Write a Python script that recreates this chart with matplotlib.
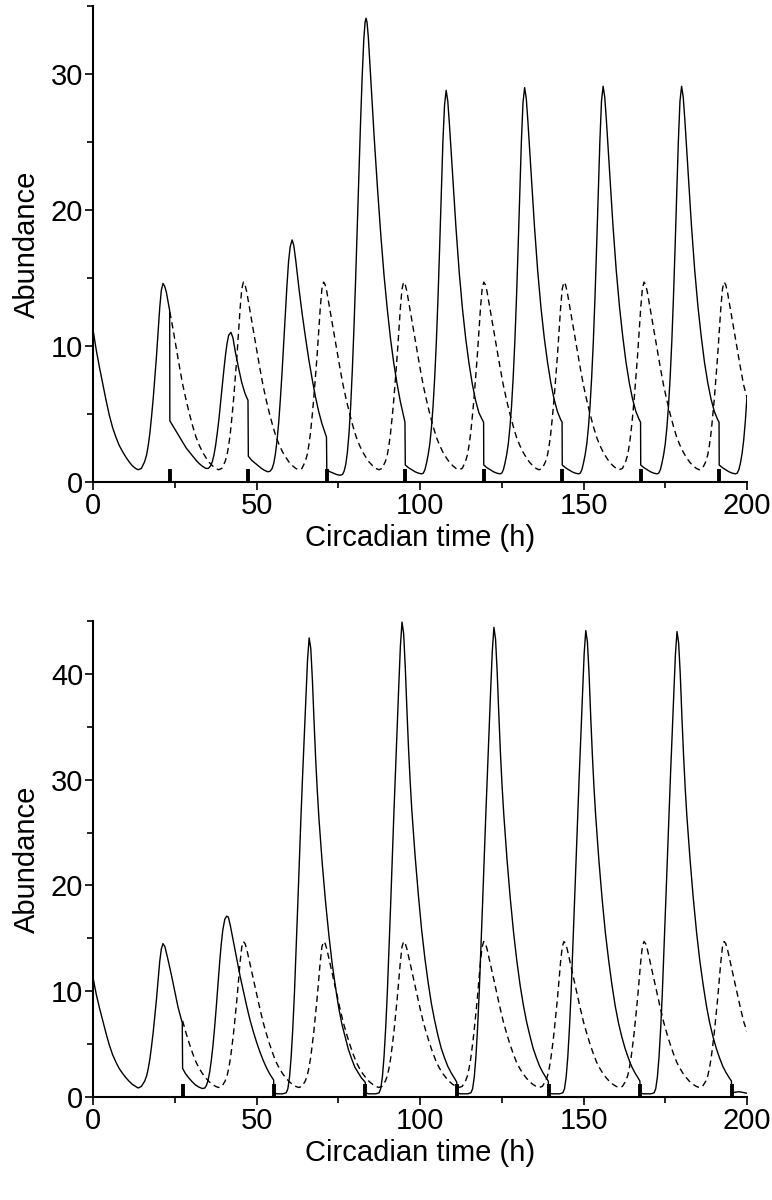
import matplotlib
matplotlib.use("Agg")
import matplotlib.pyplot as plt
import matplotlib.transforms as mtransforms
from matplotlib.ticker import MultipleLocator

plt.rcParams['font.family'] = ['Liberation Sans', 'DejaVu Sans']

# ---------------- data ----------------
# Free-running (dashed) oscillation, shared by both panels
dashed_pts = [
    (23.5, 12.5), (24.5, 11.2), (25.5, 9.8), (26.5, 8.4), (27.4, 7.2), (28.5, 6.0), (29.5, 5.0),
    (30.5, 4.1), (31.5, 3.3), (32.5, 2.7), (33.5, 2.2), (34.5, 1.8), (35.5, 1.45), (36.5, 1.2),
    (37.5, 1.0), (38.4, 0.9),
    (39.4, 1.0), (40.4, 1.5), (41.0, 2.0), (41.5, 2.7), (42.0, 3.6), (42.5, 4.8), (43.0, 6.1),
    (43.5, 7.6), (44.0, 9.2), (44.5, 11.0), (45.0, 12.8), (45.5, 14.2), (46.0, 14.7), (46.5, 14.5),
    (47.0, 14.0), (48.0, 12.6), (49.0, 11.2), (50.0, 9.8), (51.0, 8.4), (52.0, 7.1), (53.0, 6.0),
    (54.0, 5.0), (55.0, 4.1), (56.0, 3.3), (57.0, 2.7), (58.0, 2.2), (59.0, 1.8), (60.0, 1.45),
    (61.0, 1.2), (62.0, 1.0), (62.9, 0.9),
    (63.9, 1.0), (64.9, 1.5), (65.5, 2.0), (66.0, 2.7), (66.5, 3.6), (67.0, 4.8), (67.5, 6.1),
    (68.0, 7.6), (68.5, 9.2), (69.0, 11.0), (69.5, 12.8), (70.0, 14.2), (70.5, 14.7), (71.0, 14.5),
    (71.5, 14.0), (72.5, 12.6), (73.5, 11.2), (74.5, 9.8), (75.5, 8.4), (76.5, 7.1), (77.5, 6.0),
    (78.5, 5.0), (79.5, 4.1), (80.5, 3.3), (81.5, 2.7), (82.5, 2.2), (83.5, 1.8), (84.5, 1.45),
    (85.5, 1.2), (86.5, 1.0), (87.4, 0.9),
    (88.4, 1.0), (89.4, 1.5), (90.0, 2.0), (90.5, 2.7), (91.0, 3.6), (91.5, 4.8), (92.0, 6.1),
    (92.5, 7.6), (93.0, 9.2), (93.5, 11.0), (94.0, 12.8), (94.5, 14.2), (95.0, 14.7), (95.5, 14.5),
    (96.0, 14.0), (97.0, 12.6), (98.0, 11.2), (99.0, 9.8), (100.0, 8.4), (101.0, 7.1), (102.0, 6.0),
    (103.0, 5.0), (104.0, 4.1), (105.0, 3.3), (106.0, 2.7), (107.0, 2.2), (108.0, 1.8), (109.0, 1.45),
    (110.0, 1.2), (111.0, 1.0), (111.9, 0.9),
    (112.9, 1.0), (113.9, 1.5), (114.5, 2.0), (115.0, 2.7), (115.5, 3.6), (116.0, 4.8), (116.5, 6.1),
    (117.0, 7.6), (117.5, 9.2), (118.0, 11.0), (118.5, 12.8), (119.0, 14.2), (119.5, 14.7), (120.0, 14.5),
    (120.5, 14.0), (121.5, 12.6), (122.5, 11.2), (123.5, 9.8), (124.5, 8.4), (125.5, 7.1), (126.5, 6.0),
    (127.5, 5.0), (128.5, 4.1), (129.5, 3.3), (130.5, 2.7), (131.5, 2.2), (132.5, 1.8), (133.5, 1.45),
    (134.5, 1.2), (135.5, 1.0), (136.4, 0.9),
    (137.4, 1.0), (138.4, 1.5), (139.0, 2.0), (139.5, 2.7), (140.0, 3.6), (140.5, 4.8), (141.0, 6.1),
    (141.5, 7.6), (142.0, 9.2), (142.5, 11.0), (143.0, 12.8), (143.5, 14.2), (144.0, 14.7), (144.5, 14.5),
    (145.0, 14.0), (146.0, 12.6), (147.0, 11.2), (148.0, 9.8), (149.0, 8.4), (150.0, 7.1), (151.0, 6.0),
    (152.0, 5.0), (153.0, 4.1), (154.0, 3.3), (155.0, 2.7), (156.0, 2.2), (157.0, 1.8), (158.0, 1.45),
    (159.0, 1.2), (160.0, 1.0), (160.9, 0.9),
    (161.9, 1.0), (162.9, 1.5), (163.5, 2.0), (164.0, 2.7), (164.5, 3.6), (165.0, 4.8), (165.5, 6.1),
    (166.0, 7.6), (166.5, 9.2), (167.0, 11.0), (167.5, 12.8), (168.0, 14.2), (168.5, 14.7), (169.0, 14.5),
    (169.5, 14.0), (170.5, 12.6), (171.5, 11.2), (172.5, 9.8), (173.5, 8.4), (174.5, 7.1), (175.5, 6.0),
    (176.5, 5.0), (177.5, 4.1), (178.5, 3.3), (179.5, 2.7), (180.5, 2.2), (181.5, 1.8), (182.5, 1.45),
    (183.5, 1.2), (184.5, 1.0), (185.4, 0.9),
    (186.4, 1.0), (187.4, 1.5), (188.0, 2.0), (188.5, 2.7), (189.0, 3.6), (189.5, 4.8), (190.0, 6.1),
    (190.5, 7.6), (191.0, 9.2), (191.5, 11.0), (192.0, 12.8), (192.5, 14.2), (193.0, 14.7), (193.5, 14.5),
    (194.0, 14.0), (195.0, 12.6), (196.0, 11.2), (197.0, 9.8), (198.0, 8.4), (199.0, 7.1), (200.0, 6.2),
]

# Top panel, solid curve (24 h light pulses)
top_solid_pts = [
    (0, 11.2), (1, 9.7), (2, 8.4), (3, 7.2), (4, 6.0), (5, 4.9), (6, 4.0), (7, 3.3), (8, 2.7),
    (9, 2.25), (10, 1.85), (11, 1.5), (12, 1.2), (13, 1.0), (13.8, 0.9),
    (14.8, 1.0), (15.8, 1.5), (16.4, 2.0), (16.9, 2.7), (17.4, 3.6), (17.9, 4.8), (18.4, 6.1),
    (18.9, 7.6), (19.4, 9.2), (19.9, 11.0), (20.4, 12.8), (20.9, 14.1), (21.4, 14.6), (21.9, 14.4),
    (22.4, 14.0), (23.0, 13.2), (23.45, 12.6),
    (23.5, 4.5), (24.5, 4.1), (25.5, 3.7), (26.5, 3.3), (27.5, 2.9), (28.5, 2.5), (29.5, 2.2),
    (30.5, 1.9), (31.5, 1.6), (32.5, 1.35), (33.5, 1.15), (34.5, 1.0), (35.3, 1.0),
    (36.0, 1.2), (36.5, 1.5), (37.0, 2.0), (37.5, 2.7), (38.0, 3.6), (38.5, 4.6), (39.0, 5.8),
    (39.5, 7.0), (40.0, 8.2), (40.5, 9.3), (41.0, 10.2), (41.5, 10.8), (42.2, 11.0), (42.8, 10.6),
    (43.5, 9.6), (44.5, 8.4), (45.5, 7.3), (46.5, 6.5), (47.4, 6.0),
    (47.5, 1.9), (48.5, 1.6), (49.5, 1.4), (50.5, 1.2), (51.5, 1.0), (52.5, 0.85), (53.5, 0.75),
    (54.2, 0.8), (54.8, 1.0), (55.3, 1.4), (55.8, 2.1), (56.3, 3.1), (56.8, 4.4), (57.3, 6.1),
    (57.8, 8.0), (58.3, 10.1), (58.8, 12.3), (59.3, 14.4), (59.8, 16.2), (60.3, 17.3), (60.9, 17.8),
    (61.4, 17.4), (62.0, 16.3), (63.0, 14.2), (64.0, 12.3), (65.0, 10.6), (66.0, 9.0), (67.0, 7.6),
    (68.0, 6.3), (69.0, 5.2), (70.0, 4.3), (71.4, 3.3),
    (71.5, 0.9), (72.5, 0.75), (73.5, 0.65), (74.5, 0.55), (75.5, 0.5), (76.3, 0.55),
    (76.8, 0.8), (77.3, 1.3), (77.8, 2.2), (78.3, 3.6), (78.8, 5.6), (79.3, 8.2), (79.8, 11.3),
    (80.3, 14.8), (80.8, 18.6), (81.3, 22.5), (81.8, 26.3), (82.3, 29.7), (82.8, 32.5), (83.2, 33.8),
    (83.5, 34.1), (83.8, 33.8), (84.2, 32.7), (84.7, 30.7), (85.2, 28.6), (86.0, 25.3), (87.0, 21.6),
    (88.0, 18.2), (89.0, 15.2), (90.0, 12.7), (91.0, 10.5), (92.0, 8.7), (93.0, 7.2), (94.0, 5.9),
    (95.4, 4.4),
    (95.5, 1.25), (96.5, 1.05), (97.5, 0.9), (98.5, 0.75), (99.5, 0.65), (100.5, 0.6),
    (101.0, 0.65), (101.5, 0.9), (102.0, 1.4), (102.5, 2.0), (103.0, 2.8), (103.5, 4.0), (104.0, 5.6),
    (104.5, 7.7), (105.0, 10.3), (105.5, 13.5), (106.0, 17.2), (106.5, 21.2), (107.0, 25.0),
    (107.5, 27.7), (108.0, 28.8), (108.5, 28.0), (109.0, 26.3), (109.5, 24.4), (110.0, 22.4),
    (111.0, 18.7), (112.0, 15.4), (113.0, 12.7), (114.0, 10.5), (115.0, 8.7), (116.0, 7.2),
    (117.0, 6.0), (118.0, 5.1), (119.0, 4.6), (119.45, 4.4),
    (119.5, 1.25), (120.5, 1.05), (121.5, 0.9), (122.5, 0.75), (123.5, 0.65), (124.5, 0.6),
    (125.0, 0.65), (125.5, 0.9), (126.0, 1.4), (126.5, 2.0), (127.0, 2.8), (127.5, 4.0), (128.0, 5.6),
    (128.5, 7.7), (129.0, 10.3), (129.5, 13.5), (130.0, 17.2), (130.5, 21.2), (131.0, 25.0),
    (131.5, 27.9), (132.0, 29.0), (132.5, 28.2), (133.0, 26.5), (133.5, 24.6), (134.0, 22.6),
    (135.0, 18.8), (136.0, 15.5), (137.0, 12.8), (138.0, 10.6), (139.0, 8.8), (140.0, 7.3),
    (141.0, 6.1), (142.0, 5.2), (143.0, 4.6), (143.45, 4.4),
    (143.5, 1.25), (144.5, 1.05), (145.5, 0.9), (146.5, 0.75), (147.5, 0.65), (148.5, 0.6),
    (149.0, 0.65), (149.5, 0.9), (150.0, 1.4), (150.5, 2.0), (151.0, 2.8), (151.5, 4.0), (152.0, 5.6),
    (152.5, 7.7), (153.0, 10.3), (153.5, 13.5), (154.0, 17.2), (154.5, 21.2), (155.0, 25.0),
    (155.5, 28.0), (156.0, 29.1), (156.5, 28.3), (157.0, 26.6), (157.5, 24.7), (158.0, 22.7),
    (159.0, 18.9), (160.0, 15.6), (161.0, 12.9), (162.0, 10.7), (163.0, 8.8), (164.0, 7.3),
    (165.0, 6.1), (166.0, 5.2), (167.0, 4.6), (167.45, 4.4),
    (167.5, 1.25), (168.5, 1.05), (169.5, 0.9), (170.5, 0.75), (171.5, 0.65), (172.5, 0.6),
    (173.0, 0.65), (173.5, 0.9), (174.0, 1.4), (174.5, 2.0), (175.0, 2.8), (175.5, 4.0), (176.0, 5.6),
    (176.5, 7.7), (177.0, 10.3), (177.5, 13.5), (178.0, 17.2), (178.5, 21.2), (179.0, 25.0),
    (179.5, 28.0), (180.0, 29.1), (180.5, 28.3), (181.0, 26.6), (181.5, 24.7), (182.0, 22.7),
    (183.0, 18.9), (184.0, 15.6), (185.0, 12.9), (186.0, 10.7), (187.0, 8.8), (188.0, 7.3),
    (189.0, 6.1), (190.0, 5.2), (191.0, 4.6), (191.45, 4.4),
    (191.5, 1.25), (192.5, 1.05), (193.5, 0.9), (194.5, 0.75), (195.5, 0.65), (196.5, 0.6),
    (197.0, 0.65), (197.5, 0.9), (198.0, 1.4), (198.5, 2.1), (199.0, 3.1), (199.5, 4.5), (200.0, 6.3),
]

# Bottom panel, solid curve (28 h light pulses)
bottom_solid_pts = [
    (0, 11.3), (1, 9.7), (2, 8.4), (3, 7.2), (4, 6.0), (5, 4.9), (6, 4.0), (7, 3.3), (8, 2.7),
    (9, 2.25), (10, 1.85), (11, 1.5), (12, 1.2), (13, 1.0), (13.8, 0.85),
    (14.8, 1.0), (15.8, 1.5), (16.4, 2.0), (16.9, 2.7), (17.4, 3.6), (17.9, 4.8), (18.4, 6.1),
    (18.9, 7.6), (19.4, 9.2), (19.9, 11.0), (20.4, 12.8), (20.9, 14.0), (21.4, 14.5), (22.0, 14.2),
    (23.0, 12.9), (24.0, 11.5), (25.0, 10.0), (26.0, 8.5), (27.3, 7.0),
    (27.4, 2.7), (28.3, 2.2), (29.3, 1.8), (30.3, 1.45), (31.3, 1.15), (32.3, 0.95), (33.4, 0.8),
    (34.2, 0.85), (34.7, 1.1), (35.2, 1.6), (35.7, 2.4), (36.2, 3.5), (36.7, 4.9), (37.2, 6.6),
    (37.7, 8.5), (38.2, 10.6), (38.7, 12.6), (39.2, 14.4), (39.7, 15.8), (40.3, 16.8), (40.9, 17.1),
    (41.4, 17.0), (42.0, 16.2), (43.0, 14.6), (44.0, 13.0), (45.0, 11.4), (46.0, 10.0), (47.0, 8.6),
    (48.0, 7.3), (49.0, 6.2), (50.0, 5.2), (51.0, 4.3), (52.0, 3.5), (53.0, 2.8), (54.0, 2.2),
    (55.25, 1.6),
    (55.3, 0.4), (56.3, 0.3), (58.0, 0.3), (59.1, 0.4), (59.6, 0.8), (60.1, 1.9), (60.6, 3.8),
    (61.1, 6.5), (61.6, 9.8), (62.1, 13.8), (62.6, 18.0), (63.1, 22.3), (63.6, 26.5), (64.1, 30.4),
    (64.6, 34.0), (65.1, 37.8), (65.6, 41.3), (66.1, 43.4), (66.6, 42.4), (67.1, 39.4), (67.6, 35.5),
    (68.1, 31.9), (68.6, 28.9), (69.1, 26.3), (70.1, 22.1), (71.1, 18.5), (72.1, 15.4), (73.1, 12.7),
    (74.1, 10.5), (75.1, 8.5), (76.1, 6.9), (77.1, 5.7), (78.1, 4.5), (79.1, 3.6), (80.1, 2.8),
    (81.1, 2.3), (82.1, 1.8), (83.25, 1.4),
    (83.3, 0.4), (84.3, 0.3), (86.5, 0.3), (87.5, 0.4), (88.0, 0.8), (88.5, 1.9), (89.0, 3.8),
    (89.5, 6.5), (90.0, 9.8), (90.5, 13.8), (91.0, 18.0), (91.5, 22.4), (92.0, 26.7), (92.5, 30.8),
    (93.0, 34.8), (93.5, 38.8), (94.0, 42.6), (94.5, 44.9), (95.0, 43.8), (95.5, 40.6), (96.0, 36.6),
    (96.5, 32.9), (97.0, 29.8), (97.5, 27.1), (98.5, 22.8), (99.5, 19.1), (100.5, 15.8), (101.5, 13.1),
    (102.5, 10.8), (103.5, 8.8), (104.5, 7.2), (105.5, 5.8), (106.5, 4.6), (107.5, 3.7), (108.5, 2.9),
    (109.5, 2.3), (110.5, 1.8), (111.25, 1.4),
    (111.3, 0.4), (112.3, 0.3), (114.6, 0.3), (115.6, 0.4), (116.1, 0.8), (116.6, 1.9), (117.1, 3.8),
    (117.6, 6.5), (118.1, 9.8), (118.6, 13.8), (119.1, 18.0), (119.6, 22.3), (120.1, 26.5),
    (120.6, 30.5), (121.1, 34.4), (121.6, 38.4), (122.1, 42.1), (122.6, 44.4), (123.1, 43.3),
    (123.6, 40.2), (124.1, 36.2), (124.6, 32.5), (125.1, 29.4), (125.6, 26.8), (126.6, 22.5),
    (127.6, 18.8), (128.6, 15.6), (129.6, 12.9), (130.6, 10.6), (131.6, 8.7), (132.6, 7.1),
    (133.6, 5.8), (134.6, 4.6), (135.6, 3.7), (136.6, 2.9), (137.6, 2.3), (138.6, 1.8), (139.25, 1.5),
    (139.3, 0.4), (140.3, 0.3), (142.7, 0.3), (143.7, 0.4), (144.2, 0.8), (144.7, 1.9), (145.2, 3.8),
    (145.7, 6.5), (146.2, 9.8), (146.7, 13.8), (147.2, 18.0), (147.7, 22.2), (148.2, 26.4),
    (148.7, 30.4), (149.2, 34.2), (149.7, 38.2), (150.2, 41.9), (150.7, 44.1), (151.2, 43.0),
    (151.7, 40.0), (152.2, 36.0), (152.7, 32.4), (153.2, 29.3), (153.7, 26.7), (154.7, 22.4),
    (155.7, 18.7), (156.7, 15.5), (157.7, 12.9), (158.7, 10.6), (159.7, 8.6), (160.7, 7.0),
    (161.7, 5.7), (162.7, 4.6), (163.7, 3.7), (164.7, 2.9), (165.7, 2.3), (166.7, 1.8), (167.25, 1.5),
    (167.3, 0.4), (168.3, 0.3), (170.6, 0.3), (171.6, 0.4), (172.1, 0.8), (172.6, 1.9), (173.1, 3.8),
    (173.6, 6.5), (174.1, 9.8), (174.6, 13.8), (175.1, 18.0), (175.6, 22.2), (176.1, 26.4),
    (176.6, 30.4), (177.1, 34.2), (177.6, 38.1), (178.1, 41.8), (178.6, 44.0), (179.1, 42.9),
    (179.6, 39.9), (180.1, 35.9), (180.6, 32.3), (181.1, 29.2), (181.6, 26.6), (182.6, 22.4),
    (183.6, 18.7), (184.6, 15.5), (185.6, 12.8), (186.6, 10.6), (187.6, 8.6), (188.6, 7.0),
    (189.6, 5.7), (190.6, 4.6), (191.6, 3.7), (192.6, 2.9), (193.6, 2.3), (194.6, 1.8), (195.25, 1.5),
    (195.3, 0.4), (196.3, 0.45), (197.5, 0.5), (198.5, 0.45), (200.0, 0.35),
]

# Light-pulse times (h) marked on the time axis
top_pulses = [23.5, 47.5, 71.5, 95.5, 119.5, 143.5, 167.5, 191.5]
bottom_pulses = [27.4, 55.3, 83.3, 111.3, 139.3, 167.3, 195.3]

x_ticks = [0, 50, 100, 150, 200]
top_y_ticks = [0, 10, 20, 30]
bottom_y_ticks = [0, 10, 20, 30, 40]
x_label = "Circadian time (h)"
y_label = "Abundance"

# ---------------- drawing ----------------
W, H = 772, 1200
fig = plt.figure(figsize=(W / 100, H / 100), dpi=100)

ax_left = 93 / W
ax_w = (747 - 93) / W
ax_h = (482 - 6) / H
ax_top = fig.add_axes([ax_left, 1 - 482 / H, ax_w, ax_h])
ax_bot = fig.add_axes([ax_left, 1 - 1097 / H, ax_w, ax_h])

FS = 21


def split(pts):
    return [p[0] for p in pts], [p[1] for p in pts]


def style(ax, ymax, yticks):
    ax.set_xlim(0, 200)
    ax.set_ylim(0, ymax)
    for s in ("top", "right"):
        ax.spines[s].set_visible(False)
    for s in ("left", "bottom"):
        ax.spines[s].set_linewidth(1.5)
    ax.set_xticks(x_ticks)
    ax.set_yticks(yticks)
    ax.xaxis.set_minor_locator(MultipleLocator(25))
    ax.yaxis.set_minor_locator(MultipleLocator(5))
    ax.tick_params(axis="both", which="major", direction="out", length=5.5, width=1.2,
                   labelsize=FS, pad=1.5)
    ax.tick_params(axis="both", which="minor", direction="out", length=4.0, width=1.2)
    ax.set_xlabel(x_label, fontsize=FS, labelpad=3)
    ax.set_ylabel(y_label, fontsize=FS, labelpad=7)


for ax, solid, pulses, ymax, yt, dstart in (
        (ax_top, top_solid_pts, top_pulses, 35, top_y_ticks, 23.5),
        (ax_bot, bottom_solid_pts, bottom_pulses, 45, bottom_y_ticks, 27.4)):
    st, sv = split(solid)
    ax.plot(st, sv, color="black", lw=1.0, solid_joinstyle="round")
    dt, dv = split([p for p in dashed_pts if p[0] >= dstart])
    ax.plot(dt, dv, color="black", lw=1.0, dashes=(4.5, 3.0))
    trans = mtransforms.blended_transform_factory(ax.transData, ax.transAxes)
    ax.vlines(pulses, 0, 0.028, transform=trans, colors="black", lw=2.8)
    style(ax, ymax, yt)

fig.savefig("out.png", dpi=100)
